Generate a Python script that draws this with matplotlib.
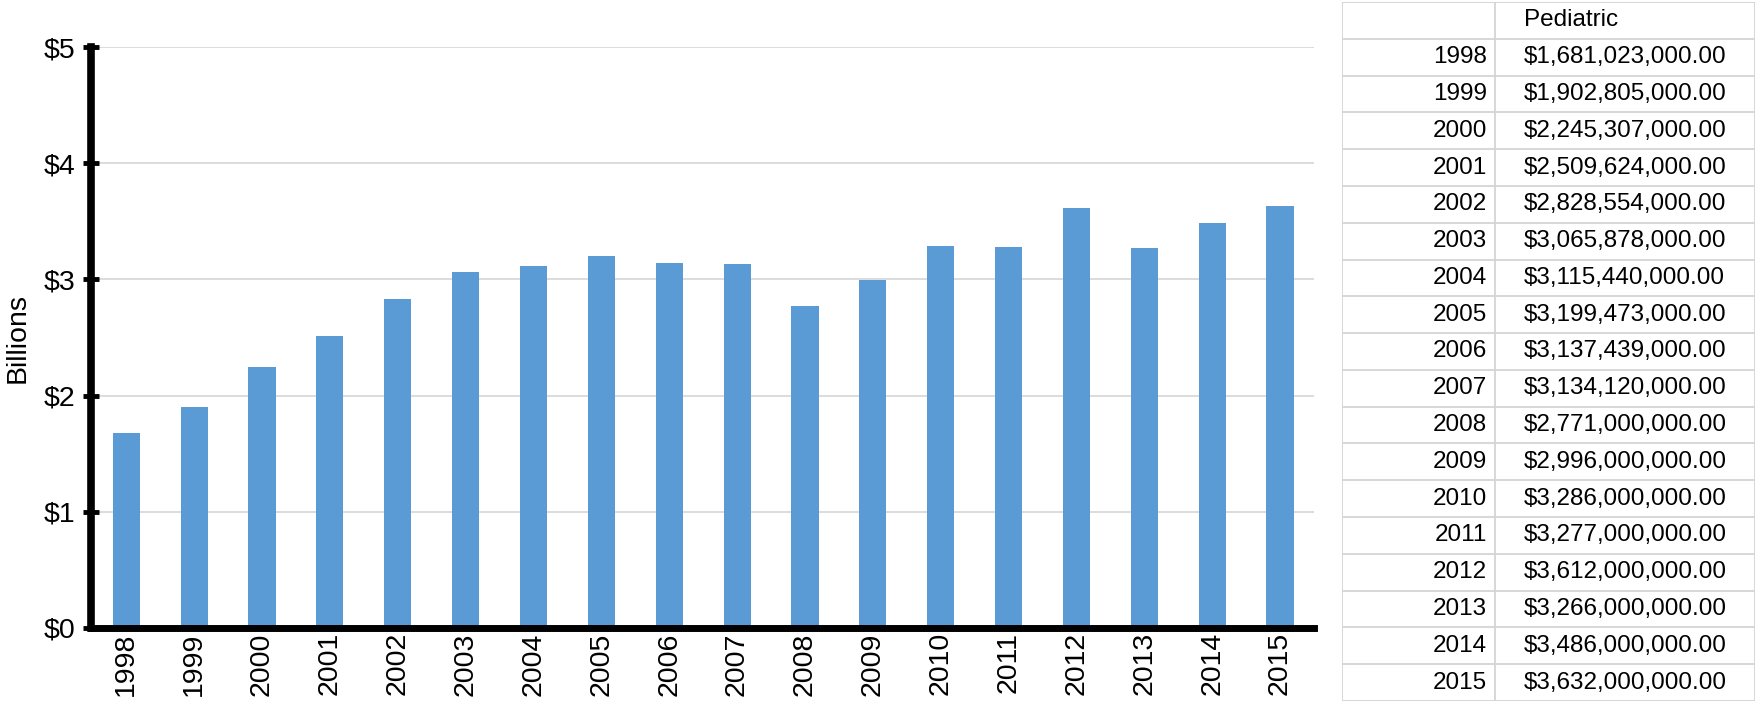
import numpy as np
import matplotlib.pyplot as plt

plt.rcParams['font.family'] = ['Liberation Sans', 'DejaVu Sans']

years = ['1998', '1999', '2000', '2001', '2002', '2003', '2004', '2005', '2006',
         '2007', '2008', '2009', '2010', '2011', '2012', '2013', '2014', '2015']
spending = [1681023000, 1902805000, 2245307000, 2509624000, 2828554000, 3065878000,
            3115440000, 3199473000, 3137439000, 3134120000, 2771000000, 2996000000,
            3286000000, 3277000000, 3612000000, 3266000000, 3486000000, 3632000000]
y_ticks = [0, 1, 2, 3, 4, 5]
y_labels = ['$0', '$1', '$2', '$3', '$4', '$5']
table_header = 'Pediatric'

W, H = 1758, 708
fig = plt.figure(figsize=(W / 100, H / 100), dpi=100)

# bar chart
ax = fig.add_axes([91 / W, (H - 628) / H, (1314 - 91) / W, (628 - 47) / H])
x = np.arange(len(years))
ax.bar(x, np.array(spending) / 1e9, width=0.4, color='#5b9bd5', zorder=3)
ax.set_xlim(-0.52, len(years) - 0.5)
ax.set_ylim(0, 5)
ax.set_yticks(y_ticks)
ax.set_yticklabels(y_labels, fontsize=20.5)
ax.set_xticks(x)
ax.set_xticklabels(years, rotation=90, fontsize=20.5)
ax.tick_params(axis='x', length=0, pad=3)
ax.tick_params(axis='y', direction='inout', length=11, width=3.5, pad=6)
ax.grid(axis='y', color='#d9d9d9', lw=1.3, zorder=0)
for s in ['top', 'right']:
    ax.spines[s].set_visible(False)
ax.spines['left'].set_linewidth(5.5)
ax.spines['bottom'].set_linewidth(5)
ax.spines['left'].set_zorder(4)
ax.spines['bottom'].set_zorder(4)
ax.set_ylabel('Billions', fontsize=20.5)
ax.yaxis.set_label_coords(-73 / 1223, 0.5)
ax.yaxis.label.set_va('center')

# data table on the right
tx0, tx1, tdiv = 1342, 1755, 1495
ty0, ty1 = 2, 701
tab = fig.add_axes([tx0 / W, (H - ty1) / H, (tx1 - tx0) / W, (ty1 - ty0) / H])
n_rows = len(years) + 1
tab.set_xlim(tx0, tx1)
tab.set_ylim(n_rows, 0)
tab.axis('off')
line_kw = dict(color='#d4d4d4', lw=1.3)
for r in range(n_rows + 1):
    tab.plot([tx0, tx1], [r, r], **line_kw)
for xx in [tx0, tdiv, tx1]:
    tab.plot([xx, xx], [0, n_rows], **line_kw)
tab.text(tdiv + 29, 0.5, table_header, fontsize=17.5, va='center', ha='left')
for i, (yr, val) in enumerate(zip(years, spending)):
    tab.text(tdiv - 8, i + 1.5, yr, fontsize=17.5, va='center', ha='right')
    tab.text(tdiv + 29, i + 1.5, '${:,.2f}'.format(val), fontsize=17.5,
             va='center', ha='left')

fig.savefig('out.png', dpi=100)
